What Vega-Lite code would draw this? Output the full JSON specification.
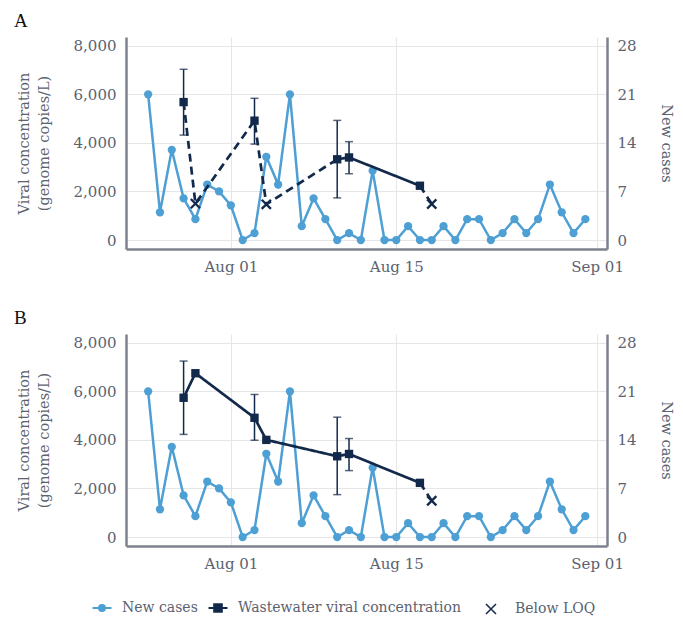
{
  "$schema": "https://vega.github.io/schema/vega-lite/v6.json",
  "padding": {"left": 14, "top": 12, "right": 4, "bottom": 4},
  "background": "white",
  "datasets": {
    "cases": [
      {"date": "2020-07-25", "cases": 21}, {"date": "2020-07-26", "cases": 4}, {"date": "2020-07-27", "cases": 13},
      {"date": "2020-07-28", "cases": 6}, {"date": "2020-07-29", "cases": 3}, {"date": "2020-07-30", "cases": 8},
      {"date": "2020-07-31", "cases": 7}, {"date": "2020-08-01", "cases": 5}, {"date": "2020-08-02", "cases": 0},
      {"date": "2020-08-03", "cases": 1}, {"date": "2020-08-04", "cases": 12}, {"date": "2020-08-05", "cases": 8},
      {"date": "2020-08-06", "cases": 21}, {"date": "2020-08-07", "cases": 2}, {"date": "2020-08-08", "cases": 6},
      {"date": "2020-08-09", "cases": 3}, {"date": "2020-08-10", "cases": 0}, {"date": "2020-08-11", "cases": 1},
      {"date": "2020-08-12", "cases": 0}, {"date": "2020-08-13", "cases": 10}, {"date": "2020-08-14", "cases": 0},
      {"date": "2020-08-15", "cases": 0}, {"date": "2020-08-16", "cases": 2}, {"date": "2020-08-17", "cases": 0},
      {"date": "2020-08-18", "cases": 0}, {"date": "2020-08-19", "cases": 2}, {"date": "2020-08-20", "cases": 0},
      {"date": "2020-08-21", "cases": 3}, {"date": "2020-08-22", "cases": 3}, {"date": "2020-08-23", "cases": 0},
      {"date": "2020-08-24", "cases": 1}, {"date": "2020-08-25", "cases": 3}, {"date": "2020-08-26", "cases": 1},
      {"date": "2020-08-27", "cases": 3}, {"date": "2020-08-28", "cases": 8}, {"date": "2020-08-29", "cases": 4},
      {"date": "2020-08-30", "cases": 1}, {"date": "2020-08-31", "cases": 3}
    ],
    "ww": [
      {"panel": "A", "date": "2020-07-28", "conc": 5680, "lo": 4320, "hi": 7030, "series": "Wastewater viral concentration"},
      {"panel": "A", "date": "2020-07-29", "conc": 1500, "lo": null, "hi": null, "series": "Below LOQ"},
      {"panel": "A", "date": "2020-08-03", "conc": 4915, "lo": 3950, "hi": 5835, "series": "Wastewater viral concentration"},
      {"panel": "A", "date": "2020-08-04", "conc": 1470, "lo": null, "hi": null, "series": "Below LOQ"},
      {"panel": "A", "date": "2020-08-10", "conc": 3325, "lo": 1735, "hi": 4925, "series": "Wastewater viral concentration"},
      {"panel": "A", "date": "2020-08-11", "conc": 3400, "lo": 2730, "hi": 4050, "series": "Wastewater viral concentration"},
      {"panel": "A", "date": "2020-08-17", "conc": 2235, "lo": 2180, "hi": 2290, "series": "Wastewater viral concentration"},
      {"panel": "A", "date": "2020-08-18", "conc": 1485, "lo": null, "hi": null, "series": "Below LOQ"},
      {"panel": "B", "date": "2020-07-28", "conc": 5735, "lo": 4225, "hi": 7245, "series": "Wastewater viral concentration"},
      {"panel": "B", "date": "2020-07-29", "conc": 6745, "lo": null, "hi": null, "series": "Wastewater viral concentration"},
      {"panel": "B", "date": "2020-08-03", "conc": 4910, "lo": 3985, "hi": 5870, "series": "Wastewater viral concentration"},
      {"panel": "B", "date": "2020-08-04", "conc": 4000, "lo": null, "hi": null, "series": "Wastewater viral concentration"},
      {"panel": "B", "date": "2020-08-10", "conc": 3325, "lo": 1745, "hi": 4935, "series": "Wastewater viral concentration"},
      {"panel": "B", "date": "2020-08-11", "conc": 3420, "lo": 2735, "hi": 4055, "series": "Wastewater viral concentration"},
      {"panel": "B", "date": "2020-08-17", "conc": 2230, "lo": 2180, "hi": 2290, "series": "Wastewater viral concentration"},
      {"panel": "B", "date": "2020-08-18", "conc": 1495, "lo": null, "hi": null, "series": "Below LOQ"}
    ],
    "wwLines": [
      {"panel": "A", "seg": "A1", "style": "dashed", "date": "2020-07-28", "conc": 5680},
      {"panel": "A", "seg": "A1", "style": "dashed", "date": "2020-07-29", "conc": 1500},
      {"panel": "A", "seg": "A1", "style": "dashed", "date": "2020-08-03", "conc": 4915},
      {"panel": "A", "seg": "A1", "style": "dashed", "date": "2020-08-04", "conc": 1470},
      {"panel": "A", "seg": "A1", "style": "dashed", "date": "2020-08-10", "conc": 3325},
      {"panel": "A", "seg": "A2", "style": "solid", "date": "2020-08-10", "conc": 3325},
      {"panel": "A", "seg": "A2", "style": "solid", "date": "2020-08-11", "conc": 3400},
      {"panel": "A", "seg": "A2", "style": "solid", "date": "2020-08-17", "conc": 2235},
      {"panel": "A", "seg": "A3", "style": "dashed", "date": "2020-08-17", "conc": 2235},
      {"panel": "A", "seg": "A3", "style": "dashed", "date": "2020-08-18", "conc": 1485},
      {"panel": "B", "seg": "B1", "style": "solid", "date": "2020-07-28", "conc": 5735},
      {"panel": "B", "seg": "B1", "style": "solid", "date": "2020-07-29", "conc": 6745},
      {"panel": "B", "seg": "B1", "style": "solid", "date": "2020-08-03", "conc": 4910},
      {"panel": "B", "seg": "B1", "style": "solid", "date": "2020-08-04", "conc": 4000},
      {"panel": "B", "seg": "B1", "style": "solid", "date": "2020-08-10", "conc": 3325},
      {"panel": "B", "seg": "B1", "style": "solid", "date": "2020-08-11", "conc": 3420},
      {"panel": "B", "seg": "B1", "style": "solid", "date": "2020-08-17", "conc": 2230},
      {"panel": "B", "seg": "B2", "style": "dashed", "date": "2020-08-17", "conc": 2230},
      {"panel": "B", "seg": "B2", "style": "dashed", "date": "2020-08-18", "conc": 1495}
    ]
  },
  "config": {
    "font": "DejaVu Serif",
    "view": {"stroke": null},
    "axis": {
      "domainColor": "#7d838e", "domainWidth": 2.5, "ticks": false,
      "labelFont": "DejaVu Serif", "labelFontSize": 15, "labelColor": "#5b6270", "labelPadding": 10,
      "titleFont": "DejaVu Serif", "titleFontSize": 14.5, "titleColor": "#5b6270", "titleFontWeight": "normal",
      "gridColor": "#e6e6e6", "gridWidth": 1
    },
    "legend": {
      "labelFont": "DejaVu Serif", "labelFontSize": 14, "labelColor": "#5b6270", "labelLimit": 400,
      "symbolSize": 400, "symbolStrokeWidth": 2, "labelOffset": 9, "symbolOpacity": 1
    }
  },
  "spacing": 35,
  "vconcat": [
    {
      "title": {"text": "A", "anchor": "start", "frame": "group", "dx": -112, "font": "Liberation Serif", "fontSize": 19, "fontWeight": "normal", "color": "#111111", "offset": 6},
      "width": 481, "height": 212,
      "encoding": {
        "x": {"field": "date", "type": "temporal",
          "scale": {"type": "utc", "domain": [{"year": 2020, "month": 7, "date": 23, "hours": 3, "utc": true}, {"year": 2020, "month": 9, "date": 1, "hours": 20, "utc": true}]},
          "axis": {"title": null, "grid": true, "format": "%b %d",
            "values": [{"year": 2020, "month": 8, "date": 1, "utc": true}, {"year": 2020, "month": 8, "date": 15, "utc": true}, {"year": 2020, "month": 9, "date": 1, "utc": true}]}}
      },
      "layer": [
        {
          "data": {"name": "cases"},
          "encoding": {"y": {"field": "cases", "type": "quantitative", "scale": {"domain": [-1.295, 29.26], "nice": false, "zero": false},
            "axis": {"orient": "right", "values": [0, 7, 14, 21, 28], "title": "New cases", "grid": false, "titlePadding": 22}}},
          "layer": [
            {"mark": {"type": "line", "color": "#4d9fd4", "strokeWidth": 2.5}},
            {"mark": {"type": "circle", "size": 68, "opacity": 1},
             "encoding": {"color": {"datum": "New cases", "type": "nominal",
               "scale": {"domain": ["New cases"], "range": ["#4d9fd4"]},
               "legend": {"title": null, "orient": "none", "legendX": -35, "legendY": 560,
                 "symbolType": "M-0.95,0L0.95,0M0.3,0A0.3,0.3,0,1,1,-0.3,0A0.3,0.3,0,1,1,0.3,0",
                 "symbolStrokeColor": "#4d9fd4", "symbolStrokeWidth": 2, "symbolSize": 400}}}}
          ]
        },
        {
          "encoding": {"y": {"field": "conc", "type": "quantitative", "scale": {"domain": [-370, 8360], "nice": false, "zero": false},
            "axis": {"orient": "left", "values": [0, 2000, 4000, 6000, 8000], "format": ",.0f", "title": ["Viral concentration", "(genome copies/L)"], "grid": true, "titlePadding": 22, "titleLineHeight": 20}}},
          "layer": [
            {"data": {"name": "wwLines"}, "transform": [{"filter": "datum.panel === 'A'"}],
             "mark": {"type": "line", "color": "#13294b", "strokeWidth": 2.7},
             "encoding": {"detail": {"field": "seg", "type": "nominal"},
               "strokeDash": {"field": "style", "type": "nominal", "scale": {"domain": ["solid", "dashed"], "range": [[1, 0], [8, 5]]}, "legend": null}}},
            {"data": {"name": "ww"}, "transform": [{"filter": "datum.panel === 'A' && isValid(datum.lo)"}],
             "mark": {"type": "errorbar", "color": "#13294b", "thickness": 1.5, "ticks": {"size": 8, "thickness": 1.5}},
             "encoding": {"y": {"field": "lo", "type": "quantitative", "scale": {"domain": [-370, 8360], "nice": false, "zero": false},
               "axis": {"orient": "left", "values": [0, 2000, 4000, 6000, 8000], "format": ",.0f", "title": ["Viral concentration", "(genome copies/L)"], "grid": true, "titlePadding": 22, "titleLineHeight": 20}},
               "y2": {"field": "hi"}}},
            {"data": {"name": "ww"}, "transform": [{"filter": "datum.panel === 'A' && datum.series === 'Wastewater viral concentration'"}],
             "mark": {"type": "square", "filled": true, "size": 70, "opacity": 1},
             "encoding": {"fill": {"field": "series", "type": "nominal",
               "scale": {"domain": ["Wastewater viral concentration"], "range": ["#13294b"]},
               "legend": {"title": null, "orient": "none", "legendX": 81, "legendY": 560,
                 "symbolType": "M-0.95,0L0.95,0M-0.38,-0.38L0.38,-0.38L0.38,0.38L-0.38,0.38Z",
                 "symbolStrokeColor": "#13294b", "symbolStrokeWidth": 2, "symbolSize": 400}}}},
            {"data": {"name": "ww"}, "transform": [{"filter": "datum.panel === 'A' && datum.series === 'Below LOQ'"}],
             "mark": {"type": "point", "filled": false, "size": 85, "opacity": 1, "strokeWidth": 2.3, "shape": "M-1,-1L1,1M-1,1L1,-1"},
             "encoding": {"stroke": {"field": "series", "type": "nominal",
               "scale": {"domain": ["Below LOQ"], "range": ["#13294b"]},
               "legend": {"title": null, "orient": "none", "legendX": 358, "legendY": 565,
                 "symbolType": "M-1,-1L1,1M-1,1L1,-1", "symbolStrokeWidth": 1.5, "symbolSize": 100, "labelOffset": 17}}}}
          ]
        }
      ],
      "resolve": {"scale": {"y": "independent"}}
    },
    {
      "title": {"text": "B", "anchor": "start", "frame": "group", "dx": -112, "font": "Liberation Serif", "fontSize": 19, "fontWeight": "normal", "color": "#111111", "offset": 6},
      "width": 481, "height": 212,
      "encoding": {
        "x": {"field": "date", "type": "temporal",
          "scale": {"type": "utc", "domain": [{"year": 2020, "month": 7, "date": 23, "hours": 3, "utc": true}, {"year": 2020, "month": 9, "date": 1, "hours": 20, "utc": true}]},
          "axis": {"title": null, "grid": true, "format": "%b %d",
            "values": [{"year": 2020, "month": 8, "date": 1, "utc": true}, {"year": 2020, "month": 8, "date": 15, "utc": true}, {"year": 2020, "month": 9, "date": 1, "utc": true}]}}
      },
      "layer": [
        {
          "data": {"name": "cases"},
          "encoding": {"y": {"field": "cases", "type": "quantitative", "scale": {"domain": [-1.295, 29.26], "nice": false, "zero": false},
            "axis": {"orient": "right", "values": [0, 7, 14, 21, 28], "title": "New cases", "grid": false, "titlePadding": 22}}},
          "layer": [
            {"mark": {"type": "line", "color": "#4d9fd4", "strokeWidth": 2.5}},
            {"mark": {"type": "circle", "size": 68, "opacity": 1, "color": "#4d9fd4"}}
          ]
        },
        {
          "encoding": {"y": {"field": "conc", "type": "quantitative", "scale": {"domain": [-370, 8360], "nice": false, "zero": false},
            "axis": {"orient": "left", "values": [0, 2000, 4000, 6000, 8000], "format": ",.0f", "title": ["Viral concentration", "(genome copies/L)"], "grid": true, "titlePadding": 22, "titleLineHeight": 20}}},
          "layer": [
            {"data": {"name": "wwLines"}, "transform": [{"filter": "datum.panel === 'B'"}],
             "mark": {"type": "line", "color": "#13294b", "strokeWidth": 2.7},
             "encoding": {"detail": {"field": "seg", "type": "nominal"},
               "strokeDash": {"field": "style", "type": "nominal", "scale": {"domain": ["solid", "dashed"], "range": [[1, 0], [8, 5]]}, "legend": null}}},
            {"data": {"name": "ww"}, "transform": [{"filter": "datum.panel === 'B' && isValid(datum.lo)"}],
             "mark": {"type": "errorbar", "color": "#13294b", "thickness": 1.5, "ticks": {"size": 8, "thickness": 1.5}},
             "encoding": {"y": {"field": "lo", "type": "quantitative", "scale": {"domain": [-370, 8360], "nice": false, "zero": false},
               "axis": {"orient": "left", "values": [0, 2000, 4000, 6000, 8000], "format": ",.0f", "title": ["Viral concentration", "(genome copies/L)"], "grid": true, "titlePadding": 22, "titleLineHeight": 20}},
               "y2": {"field": "hi"}}},
            {"data": {"name": "ww"}, "transform": [{"filter": "datum.panel === 'B' && datum.series === 'Wastewater viral concentration'"}],
             "mark": {"type": "square", "filled": true, "size": 70, "opacity": 1, "color": "#13294b"}},
            {"data": {"name": "ww"}, "transform": [{"filter": "datum.panel === 'B' && datum.series === 'Below LOQ'"}],
             "mark": {"type": "point", "filled": false, "size": 85, "opacity": 1, "strokeWidth": 2.3, "color": "#13294b", "shape": "M-1,-1L1,1M-1,1L1,-1"}}
          ]
        }
      ],
      "resolve": {"scale": {"y": "independent"}}
    }
  ]
}
